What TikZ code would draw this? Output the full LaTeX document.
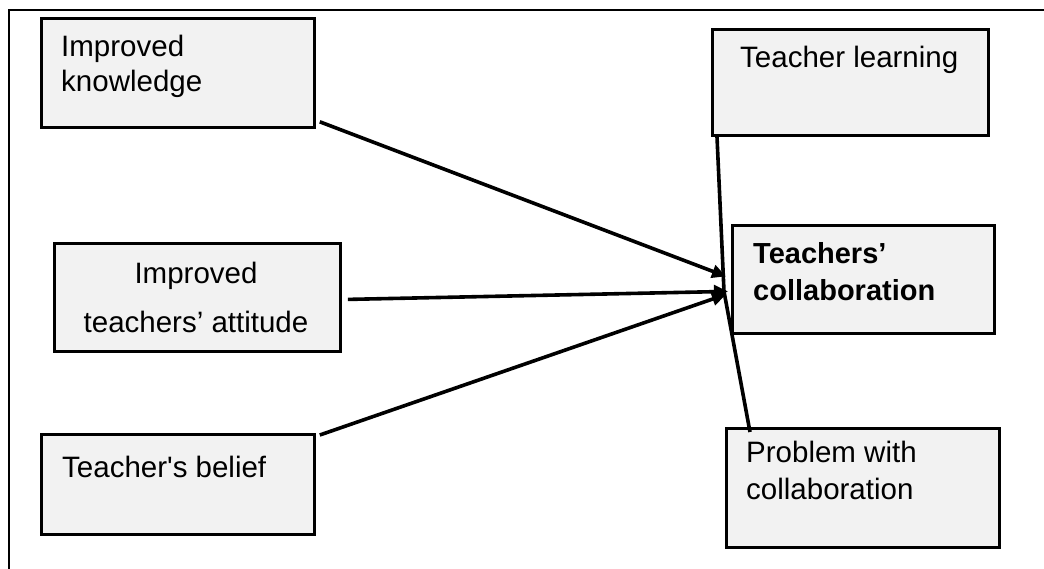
\documentclass[tikz,border=0pt]{standalone}
\usepackage{fontspec}
\setmainfont{Liberation Sans}
\usetikzlibrary{arrows.meta}
\definecolor{boxfill}{RGB}{242,242,242}
\tikzset{
  box/.style={draw=black, line width=2.8pt, fill=boxfill, anchor=north west, inner sep=0pt, minimum width=#1},
  lbl/.style={anchor=base west, inner sep=0pt, font=\fontsize{29.5}{34}\selectfont},
  clbl/.style={anchor=base, inner sep=0pt, font=\fontsize{29.5}{34}\selectfont},
  blbl/.style={anchor=base west, inner sep=0pt, font=\fontsize{29}{34}\selectfont\bfseries},
  conn/.style={line width=3.6pt},
  arr/.style={line width=3.6pt, -{Triangle[length=14pt,width=13pt]}},
}
\begin{document}
\begin{tikzpicture}[x=1pt,y=-1pt]
\useasboundingbox (0,0) rectangle (1044,568);
% outer frame
\coordinate (fbl) at (9,570);
\coordinate (ftl) at (9,10);
\coordinate (ftr) at (1046,10);
\draw[line width=2.4pt] (fbl) -- (ftl) -- (ftr);
% boxes
\node[box=273pt, minimum height=109pt] (know) at (40,17) {};
\node[box=276pt, minimum height=106pt] (learn) at (711,28) {};
\node[box=262pt, minimum height=108pt] (coll) at (731,224) {};
\node[box=286pt, minimum height=108pt] (att) at (53,242) {};
\node[box=273pt, minimum height=100pt] (belief) at (40,433) {};
\node[box=273pt, minimum height=119pt] (prob) at (725,427) {};
% texts
\node[lbl] (t1) at (61,56) {Improved};
\node[lbl] (t2) at (61,91) {knowledge};
\node[lbl] (t3) at (740,67) {Teacher learning};
\node[blbl] (t4) at (753,263) {Teachers’};
\node[blbl] (t5) at (753,300) {collaboration};
\node[clbl] (t6) at (196,283) {Improved};
\node[clbl] (t7) at (196,332) {teachers’ attitude};
\node[lbl] (t8) at (62,477) {Teacher\textquotesingle s belief};
\node[lbl] (t9) at (746,462) {Problem with};
\node[lbl] (t10) at (746,499) {collaboration};
% connectors
\draw[conn] ([xshift=6pt]learn.south west) -- ([xshift=-7pt,yshift=-12pt]coll.west);
\draw[conn] ([xshift=25pt,yshift=-5pt]prob.north west) -- ([xshift=-7pt,yshift=-12pt]coll.west);
\draw[arr] ([xshift=4pt,yshift=7pt]know.south east) -- ([xshift=-5pt,yshift=3pt]coll.west);
\draw[arr] ([xshift=6pt,yshift=-2pt]att.east) -- ([xshift=-3pt,yshift=-12pt]coll.west);
\draw[arr] ([xshift=4pt,yshift=-2pt]belief.north east) -- ([xshift=-5pt,yshift=-15pt]coll.west);
\end{tikzpicture}
\end{document}
